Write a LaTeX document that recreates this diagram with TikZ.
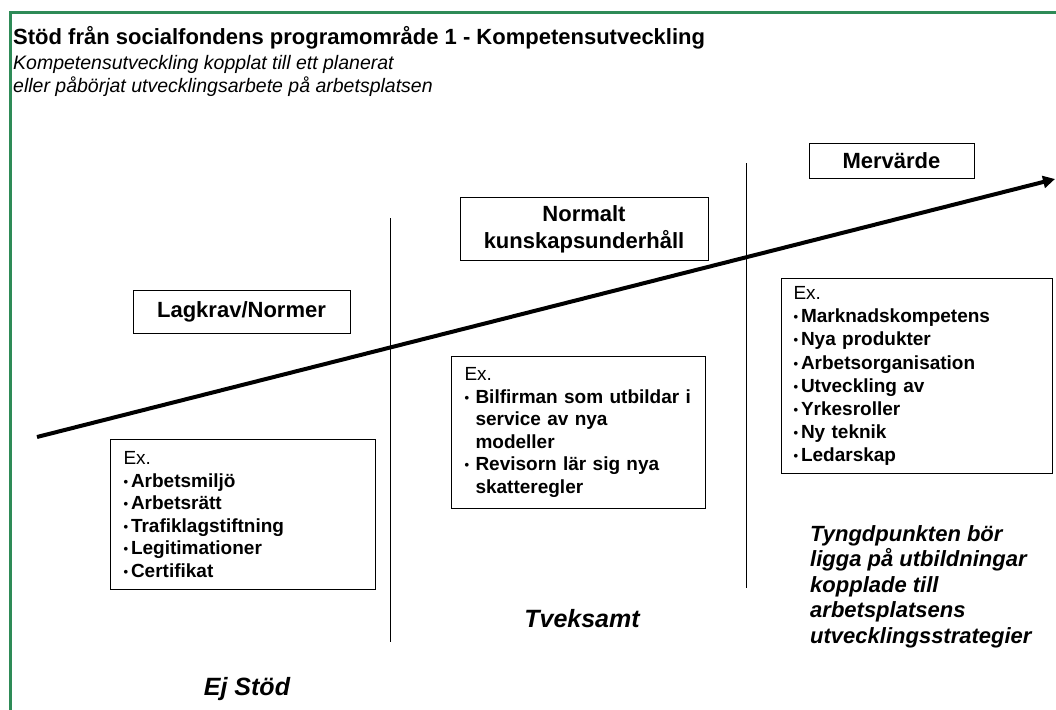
\documentclass[tikz,border=0pt]{standalone}
\usepackage{fontspec}
\setmainfont{Liberation Sans}
\usetikzlibrary{arrows.meta}
\definecolor{framegreen}{RGB}{46,139,87}
\newcommand{\exdot}{\makebox[7.5pt][l]{\raisebox{1pt}{\fontsize{13}{13}\selectfont\textbullet}}}

\begin{document}
\begin{tikzpicture}[x=1pt,y=-1pt,
    headbox/.style={draw,line width=1pt,font=\fontsize{22}{27}\selectfont\bfseries,align=center,inner sep=0pt},
    exbox/.style={draw,line width=1pt,font=\fontsize{19}{22.5}\selectfont,align=left,inner xsep=13pt,inner ysep=0pt,anchor=north west},
    zone/.style={font=\fontsize{25}{30}\selectfont\bfseries\itshape,inner sep=0pt},
    divider/.style={line width=1pt}]
  \useasboundingbox (0,0) rectangle (1056,709);
  \draw[framegreen,line width=3pt] (10,712) -- (10,13) -- (1059,13);
  \node[anchor=base west,inner sep=0pt,font=\fontsize{22}{26}\selectfont\bfseries] (title) at (13,45) {Stöd från socialfondens programområde 1 - Kompetensutveckling};
  \node[anchor=base west,inner sep=0pt,font=\fontsize{19.5}{22}\selectfont\itshape] (sub1) at (13,70) {Kompetensutveckling kopplat till ett planerat};
  \node[anchor=base west,inner sep=0pt,font=\fontsize{19.5}{22}\selectfont\itshape] (sub2) at (13,92) {eller påbörjat utvecklingsarbete på arbetsplatsen};
  \coordinate (sep1top) at (390,218);
  \coordinate (sep1bot) at (390,642);
  \coordinate (sep2top) at (746,163);
  \coordinate (sep2bot) at (746,588);
  \draw[divider] (sep1top) -- (sep1bot);
  \draw[divider] (sep2top) -- (sep2bot);
  \coordinate (arrowstart) at (37,437);
  \coordinate (arrowend) at (1055,179);
  \draw[line width=4pt,-{Triangle[length=12pt,width=12pt]}] (arrowstart) -- (arrowend);
  \node[headbox,minimum width=217,minimum height=43] (lagkrav) at (241.5,311.5) {Lagkrav/Normer};
  \node[headbox,minimum width=248,minimum height=63] (normalt) at (584,229) {Normalt\\kunskapsunderhåll};
  \node[headbox,minimum width=165,minimum height=35] (mervarde) at (891.5,160.5) {Mervärde};
  \node[exbox,text width=239,minimum height=150] (exlag) at (110,439) {Ex.\\\bfseries
    \exdot Arbetsmiljö\\
    \exdot Arbetsrätt\\
    \exdot Trafiklagstiftning\\
    \exdot Legitimationer\\
    \exdot Certifikat};
  \node[exbox,text width=228,minimum height=152] (exnormalt) at (451,356) {Ex.\\\bfseries
    \makebox[11pt][l]{\exdot}Bilfirman som utbildar i\\
    \hspace*{11pt}service av nya\\
    \hspace*{11pt}modeller\\
    \makebox[11pt][l]{\exdot}Revisorn lär sig nya\\
    \hspace*{11pt}skatteregler};
  \node[exbox,inner xsep=12pt,text width=247,minimum height=195,font=\fontsize{19}{23.1}\selectfont] (exmervarde) at (781,278) {Ex.\\\bfseries
    \exdot Marknadskompetens\\
    \exdot Nya produkter\\
    \exdot Arbetsorganisation\\
    \exdot Utveckling av\\
    \exdot Yrkesroller\\
    \exdot Ny teknik\\
    \exdot Ledarskap};
  \node[anchor=north west,inner sep=0pt,align=left,font=\fontsize{22}{25.6}\selectfont\bfseries\itshape] (tyngd) at (810,525) {Tyngdpunkten bör\\ligga på utbildningar\\kopplade till\\arbetsplatsens\\utvecklingsstrategier};
  \node[zone] (tveksamt) at (582,619) {Tveksamt};
  \node[zone] (ejstod) at (247,689) {Ej Stöd};
\end{tikzpicture}
\end{document}
